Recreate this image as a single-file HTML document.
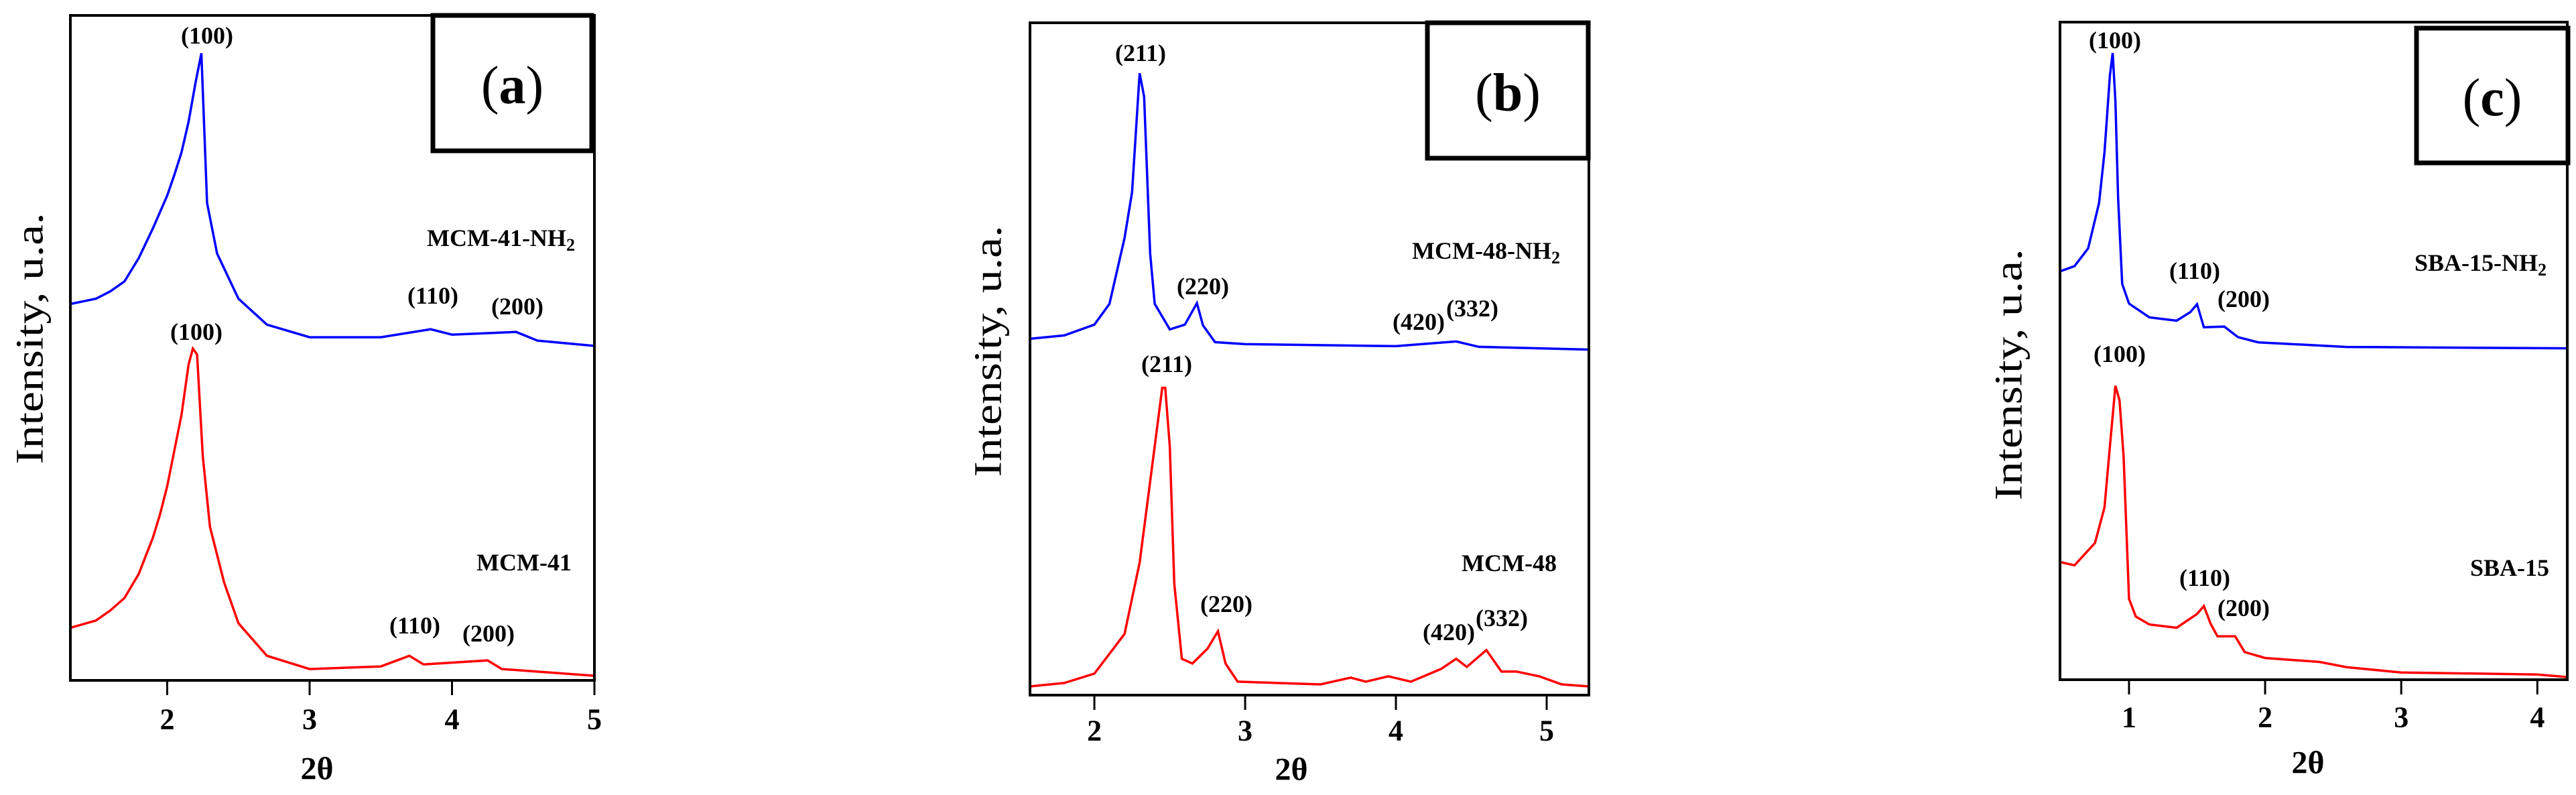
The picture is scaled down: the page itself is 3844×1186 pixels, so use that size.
<!DOCTYPE html>
<html><head><meta charset="utf-8"><style>
html,body{margin:0;padding:0;background:#fff;}
svg{display:block;font-family:"Liberation Serif",serif;}
</style></head><body>
<svg id="fig" width="3844" height="1186" viewBox="0 0 3844 1186" xmlns="http://www.w3.org/2000/svg"></svg>
<script>
// ---- Panel (a) data ----
const aX    = [1.32,1.5,1.6,1.7,1.8,1.9,2.0,2.05,2.1,2.15,2.2,2.24,2.28,2.35,2.5,2.7,3.0,3.5,3.85,4.0,4.45,4.6,5.0];
const aBlue = [56.6,57.4,58.5,60,63.5,68,72.9,76,79.4,84,90,94.3,71.8,64.2,57.4,53.5,51.6,51.6,52.8,52,52.4,51.1,50.3];
const aXr   = [1.32,1.5,1.6,1.7,1.8,1.9,1.95,2.0,2.1,2.15,2.18,2.21,2.25,2.3,2.4,2.5,2.7,3.0,3.5,3.7,3.8,4.25,4.35,5.0];
const aRed  = [7.9,9,10.5,12.4,16,21.5,25,29.2,39.9,47.5,49.9,49,33.7,23.1,14.7,8.6,3.7,1.7,2.1,3.7,2.4,3,1.7,0.7];
const aTicks = [2,3,4,5];
// ---- Panel (b) data ----
const bX    = [1.573,1.8,2.0,2.1,2.2,2.25,2.3,2.33,2.37,2.4,2.5,2.6,2.68,2.72,2.8,3.0,4.0,4.4,4.55,5.28];
const bBlue = [53,53.5,55.1,58.2,68,74.8,92.5,89,65.7,58.2,54.4,55.1,58.3,55,52.5,52.2,51.9,52.6,51.8,51.4];
const bXr   = [1.573,1.8,2.0,2.2,2.3,2.4,2.45,2.47,2.5,2.53,2.58,2.65,2.75,2.82,2.87,2.95,3.5,3.7,3.8,3.95,4.1,4.3,4.4,4.47,4.6,4.7,4.8,4.95,5.1,5.28];
const bRed  = [1.3,1.8,3.2,9.1,19.7,37,45.7,45.7,37,16.6,5.4,4.7,6.9,9.5,4.7,2,1.6,2.6,2,2.8,2,3.9,5.4,4.2,6.7,3.5,3.5,2.8,1.6,1.3];
const bTicks = [2,3,4,5];
// ---- Panel (c) data ----
const cX    = [0.493,0.6,0.7,0.78,0.82,0.86,0.88,0.9,0.92,0.95,1.0,1.15,1.35,1.45,1.5,1.55,1.7,1.8,1.95,2.6,4.22];
const cBlue = [62.1,62.9,65.6,72.5,80.2,91.9,95.3,88,73.3,60.2,57.2,55.1,54.6,55.9,57.1,53.6,53.7,52.1,51.3,50.6,50.4];
const cXr   = [0.493,0.6,0.75,0.82,0.86,0.9,0.93,0.96,1.0,1.05,1.15,1.35,1.5,1.55,1.6,1.65,1.78,1.85,2.0,2.4,2.6,3.0,4.0,4.22];
const cRed  = [17.9,17.4,20.8,26.2,35.5,44.7,42.5,34,12.3,9.6,8.4,7.9,10,11.2,8.5,6.6,6.6,4.2,3.3,2.7,1.9,1.1,0.8,0.4];
const cTicks = [1,2,3,4];

const NS="http://www.w3.org/2000/svg";
const svg=document.getElementById('fig');
function mk(tag,attrs,parent){const e=document.createElementNS(NS,tag);for(const k in attrs)e.setAttribute(k,attrs[k]);(parent||svg).appendChild(e);return e;}

function panel(p){
  const g=mk('g',{});
  
  
  const sx=v=>p.L+(v-p.xmin)/(p.xmax-p.xmin)*(p.R-p.L);
  const sy=v=>p.B-v/100*(p.B-p.T);
  const mkLine=(xs,ys,col,name)=>{
    const pts=xs.map((x,i)=>sx(x).toFixed(1)+','+sy(ys[i]).toFixed(1)).join(' ');
    const l=mk('polyline',{points:pts,fill:'none',stroke:col,'stroke-width':3.5,'stroke-linejoin':'miter'},g);
    
    
  };
  mkLine(p.xb,p.blue,'#0000ff','series-'+p.id+'-functionalized');
  mkLine(p.xr,p.red,'#ff0000','series-'+p.id+'-parent');
  const f=mk('rect',{x:p.L,y:p.T,width:p.R-p.L,height:p.B-p.T,fill:'none',stroke:'#000','stroke-width':4},g);
  
  
  p.ticks.forEach(t=>{
    const x=sx(t);
    const tk=mk('line',{x1:x,y1:p.B,x2:x,y2:p.B+22,stroke:'#000','stroke-width':3},g);
    
    
    const tl=mk('text',{x:x,y:p.tickY,'font-size':44,'font-weight':'bold','text-anchor':'middle','dominant-baseline':'central'},g);
    tl.textContent=t;
    
    
  });
  const xt=mk('text',{x:p.xtX,y:p.xtY,'font-size':48,'font-weight':'bold','text-anchor':'middle','dominant-baseline':'central'},g);
  xt.textContent='2θ';
  
  
  const yt=mk('text',{x:0,y:0,'font-size':58,'text-anchor':'middle','dominant-baseline':'central',textLength:375,lengthAdjust:'spacingAndGlyphs',transform:`translate(${p.ytX},${p.ytY}) rotate(-90)`},g);
  yt.textContent='Intensity, u.a.';
  
  
  const bx=mk('rect',{x:p.box[0],y:p.box[1],width:p.box[2]-p.box[0],height:p.box[3]-p.box[1],fill:'#fff',stroke:'#000','stroke-width':7},g);
  
  
  const bt=mk('text',{x:(p.box[0]+p.box[2])/2,y:(p.box[1]+p.box[3])/2+4,'font-size':80,'text-anchor':'middle','dominant-baseline':'central'},g);
  bt.innerHTML='(<tspan font-weight="bold">'+p.id+'</tspan>)';
  
  
  p.labels.forEach(l=>{
    const t=mk('text',{x:l[1],y:l[2],'font-size':36,'font-weight':'bold','text-anchor':l[3]||'middle','dominant-baseline':'central'},g);
    t.innerHTML=l[0];
    
    
  });
}
const SUB='<tspan font-size="26" dy="10">2</tspan>';
panel({id:'a',L:105,R:887,T:23,B:1015,xmin:1.32,xmax:5.0,xb:aX,blue:aBlue,xr:aXr,red:aRed,ticks:aTicks,
  tickY:1073,xtX:473,xtY:1147,ytX:44,ytY:505,box:[646,23,883,225],
  labels:[['(100)',309,53],['MCM-41-NH'+SUB,637,355,'start','sample-name'],['(110)',646,441],['(200)',772,457],
          ['(100)',293,495],['MCM-41',711,839,'start','sample-name'],['(110)',619,933],['(200)',729,945]]});
panel({id:'b',L:1537,R:2371,T:34,B:1037,xmin:1.573,xmax:5.28,xb:bX,blue:bBlue,xr:bXr,red:bRed,ticks:bTicks,
  tickY:1090,xtX:1927,xtY:1148,ytX:1474,ytY:524,box:[2130,34,2370,236],
  labels:[['(211)',1702,79],['MCM-48-NH'+SUB,2107,374,'start','sample-name'],['(220)',1795,427],['(420)',2117,480],['(332)',2197,460],
          ['(211)',1741,543],['MCM-48',2181,840,'start','sample-name'],['(220)',1830,901],['(420)',2162,943],['(332)',2241,922]]});
panel({id:'c',L:3074,R:3831,T:33,B:1014,xmin:0.493,xmax:4.22,xb:cX,blue:cBlue,xr:cXr,red:cRed,ticks:cTicks,
  tickY:1070,xtX:3444,xtY:1138,ytX:2997,ytY:559,box:[3606,42,3832,243],
  labels:[['(100)',3156,60],['SBA-15-NH'+SUB,3603,392,'start','sample-name'],['(110)',3275,404],['(200)',3348,446],
          ['(100)',3163,528],['SBA-15',3686,847,'start','sample-name'],['(110)',3290,862],['(200)',3348,907]]});
</script>
</body></html>
